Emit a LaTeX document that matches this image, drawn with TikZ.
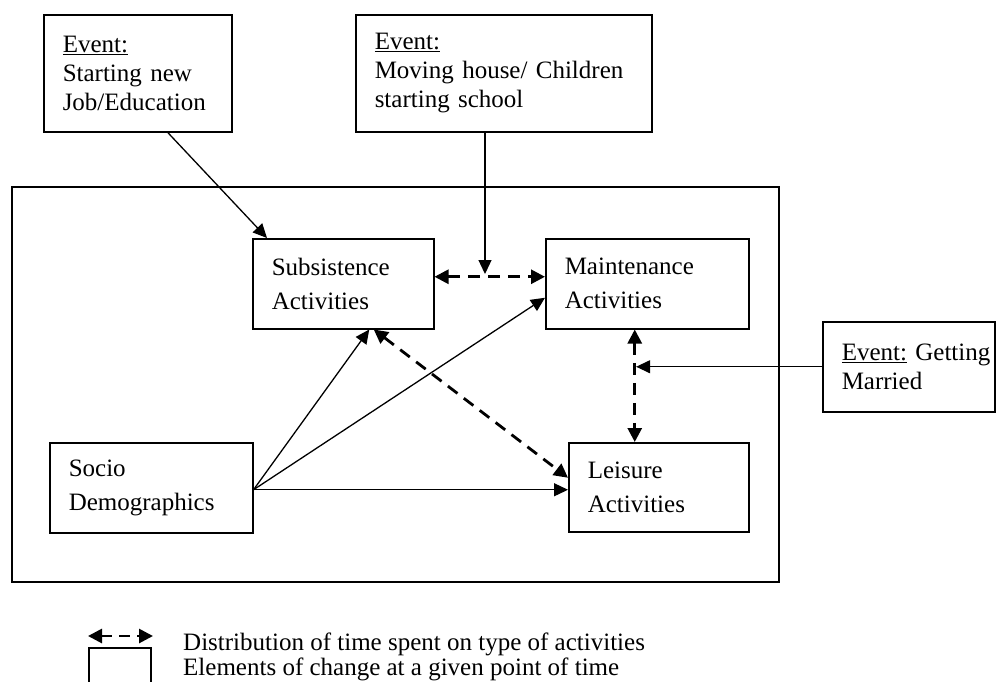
\documentclass[tikz,border=0pt]{standalone}
\usepackage{fontspec}
\setmainfont{Liberation Serif}
\usetikzlibrary{arrows.meta}
\newcommand{\Ev}{\underline{Event:}}

\begin{document}
\begin{tikzpicture}[x=1pt,y=-1pt,
    box/.style={draw,line width=1.5pt,anchor=north west,inner xsep=19pt,inner ysep=0pt,align=left},
    act/.style={box,font=\fontsize{25}{34}\selectfont},
    evt/.style={box,font=\fontsize{25}{29}\selectfont},
    link/.style={line width=1.3pt,-{Triangle[length=14pt,width=13pt]}},
    share/.style={line width=2.8pt,dash pattern=on 12pt off 8pt,{Triangle[length=14pt,width=14pt]}-{Triangle[length=14pt,width=14pt]}},
    legtext/.style={anchor=base west,inner sep=0pt,font=\fontsize{25}{25}\selectfont}]
    \useasboundingbox (0,0) rectangle (996,681);

    \node[draw,line width=1.5pt,anchor=north west,inner sep=0pt,minimum width=767pt,minimum height=395pt] (sys) at (11,186) {};

    \node[evt,text width=150pt,minimum height=117pt] (ev1) at (43,14) {\Ev\\Starting new\\Job/Education};
    \node[evt,text width=258pt,minimum height=117pt] (ev2) at (355,14) {\Ev\\Moving house/ Children\\starting school};
    \node[evt,text width=134pt,minimum height=90pt] (ev3) at (822,321) {\mbox{\Ev{} Getting}\\Married};

    \node[act,text width=143pt,minimum height=90pt] (sub) at (252,238) {Subsistence\\Activities};
    \node[act,text width=165pt,minimum height=90pt] (main) at (545,238) {Maintenance\\Activities};
    \node[act,text width=165pt,minimum height=90pt] (soc) at (49,442) {Socio\\Demographics};
    \node[act,text width=142pt,minimum height=89pt] (leis) at (568,442) {Leisure\\Activities};

    \coordinate (j1) at (485,274);
    \coordinate (j2) at ([xshift=-12.5pt]main.south);

    \draw[share] ([yshift=7pt]sub.east) -- ([yshift=7pt]main.west);
    \draw[share] ([xshift=30.5pt]sub.south) -- ([yshift=9.5pt]leis.west);
    \draw[share] (j2) -- (j2 |- leis.north);

    \draw[link] ([xshift=30pt]ev1.south) -- ([xshift=15pt]sub.north west);
    \draw[link] (ev2.south -| j1) -- (j1);
    \draw[link,shorten >=1.4pt] (ev3.west) -- (ev3.west -| j2);

    \draw[link] ([yshift=-2pt]soc.east) -- ([xshift=26pt]sub.south);
    \draw[link] ([yshift=-2pt]soc.east) -- ([yshift=-14pt]main.west);
    \draw[link] ([yshift=-2pt]soc.east) -- ([yshift=-2pt]soc.east -| leis.west);

    \coordinate (la) at (88,636);
    \coordinate (lb) at (153,636);
    \draw[share,dash pattern=on 11pt off 7pt] (la) -- (lb);
    \node[draw,line width=1.5pt,anchor=north west,inner sep=0pt,minimum width=62pt,minimum height=40pt] (lbox) at (88,647) {};
    \node[legtext] (ld) at (183,650) {Distribution of time spent on type of activities};
    \node[legtext] (le) at (183,675) {Elements of change at a given point of time};
\end{tikzpicture}
\end{document}
